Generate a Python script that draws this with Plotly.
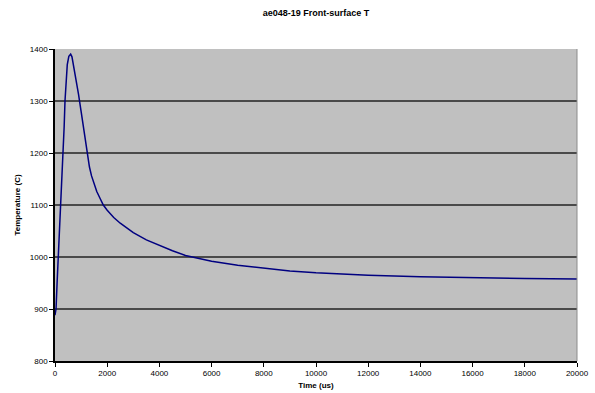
import plotly.graph_objects as go

time_us = [0, 40, 80, 126, 180, 230, 275, 318, 350, 383, 420, 470, 530, 600,
           650, 700, 800, 900, 1000, 1100, 1180, 1250, 1320, 1400, 1500, 1600,
           1724, 1851, 2000, 2250, 2500, 3000, 3500, 4000, 4500, 5000, 6000,
           7000, 8000, 9000, 10000, 12000, 14000, 16000, 18000, 20000]
temp_c = [888, 900, 950, 1000, 1050, 1100, 1150, 1200, 1250, 1300, 1340, 1370,
          1386, 1390, 1385, 1372, 1345, 1313, 1280, 1246, 1215, 1192, 1173,
          1156, 1140, 1126, 1113, 1100, 1090, 1076, 1065, 1047, 1033, 1022,
          1012, 1003, 992, 984, 978, 973, 969.5, 965, 962, 960, 958.5, 957.5]

title_text = "ae048-19 Front-surface T"
x_title = "Time (us)"
y_title = "Temperature (C)"

fig = go.Figure()
fig.add_trace(go.Scatter(x=time_us, y=temp_c, mode="lines",
                         line=dict(color="#000080", width=1.5),
                         showlegend=False, hoverinfo="skip"))

font = "Liberation Sans, Arial, sans-serif"
fig.update_layout(
    width=595, height=393,
    margin=dict(l=55, r=18, t=49, b=32),
    paper_bgcolor="white", plot_bgcolor="#C0C0C0",
    title=dict(text="<b>" + title_text + "</b>", x=0.531, xanchor="center",
               y=1 - 13/393, yanchor="middle",
               font=dict(family=font, size=9, color="black")),
    font=dict(family=font, size=8, color="black"),
    xaxis=dict(range=[0, 20000], dtick=2000, tick0=0, showgrid=False,
               tickformat="d", automargin=False,
               showline=True, linecolor="black", linewidth=1.5, mirror=False,
               ticks="outside", ticklen=4, tickcolor="black", tickwidth=1,
               tickfont=dict(family=font, size=8, color="black"),
               title=dict(text="<b>" + x_title + "</b>", standoff=5,
                          font=dict(family=font, size=8, color="black")),
               zeroline=False),
    yaxis=dict(range=[800, 1400], dtick=100, tick0=800, showgrid=True,
               automargin=False,
               gridcolor="#4a4a4a", gridwidth=1.5,
               showline=True, linecolor="black", linewidth=1.5,
               ticks="outside", ticklen=4, tickcolor="black", tickwidth=1,
               tickfont=dict(family=font, size=8, color="black"),
               title=dict(text="<b>" + y_title + "</b>", standoff=8,
                          font=dict(family=font, size=8, color="black")),
               zeroline=False),
)
# right border of the plot area
fig.add_shape(type="line", xref="paper", yref="paper", x0=1, x1=1, y0=0, y1=1,
              line=dict(color="#8c8c8c", width=1))

fig.write_html("out.html", config={"displayModeBar": False},
               post_script="document.body.style.margin='0';document.body.style.overflow='hidden';")
